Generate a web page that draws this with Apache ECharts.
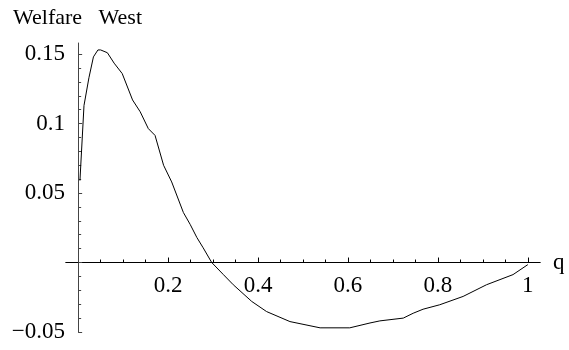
<!DOCTYPE html>
<html>
<head>
<meta charset="utf-8">
<script src="https://cdn.jsdelivr.net/npm/echarts@6/dist/echarts.min.js"></script>
<style>
  html, body { margin: 0; padding: 0; background: #fff; }
  #main { width: 569px; height: 350px; }
</style>
</head>
<body>
<div id="main"></div>
<script>
var qValues = [0.004, 0.013, 0.024, 0.034, 0.044, 0.05, 0.065, 0.08, 0.098, 0.121,
  0.138, 0.156, 0.171, 0.19, 0.208, 0.234, 0.249, 0.264, 0.278, 0.297,
  0.323, 0.345, 0.386, 0.419, 0.471, 0.538, 0.604, 0.649, 0.671, 0.723,
  0.745, 0.767, 0.804, 0.856, 0.908, 0.967, 1.0];
var welfareValues = [0.059, 0.113, 0.133, 0.148, 0.153, 0.153, 0.151, 0.1435, 0.136, 0.117,
  0.1085, 0.0964, 0.0915, 0.07, 0.058, 0.036, 0.0275, 0.018, 0.0106, 0.0,
  -0.0087, -0.016, -0.028, -0.0353, -0.0425, -0.047, -0.047, -0.0435, -0.042, -0.040,
  -0.0365, -0.0336, -0.0304, -0.0244, -0.016, -0.0087, -0.0015];

var xMajorTicks = [0.2, 0.4, 0.6, 0.8, 1];
var xMinorTicks = [0.05, 0.1, 0.15, 0.25, 0.3, 0.35, 0.45, 0.5, 0.55, 0.65, 0.7, 0.75, 0.85, 0.9, 0.95];
var yMajorTicks = [-0.05, 0, 0.05, 0.1, 0.15];
var yLabels = [-0.05, 0.05, 0.1, 0.15];

var serif = 'Liberation Serif, DejaVu Serif, serif';

var points = qValues.map(function (q, i) { return [q, welfareValues[i]]; });

var myChart = echarts.init(document.getElementById('main'));
var option = {
  animation: false,
  title: {
    text: 'Welfare   West',
    left: 8,
    top: 2,
    textStyle: { fontFamily: serif, fontSize: 22, fontWeight: 'normal', color: '#000' }
  },
  grid: { left: 66, right: 29, top: 43, bottom: 18, outerBoundsMode: 'none' },
  xAxis: [
    {
      type: 'value',
      min: -0.027,
      max: 1.027,
      splitLine: { show: false },
      axisLine: { onZero: true, onZeroAxisIndex: 0, lineStyle: { color: '#000', width: 1 } },
      axisTick: { customValues: xMajorTicks, inside: true, length: 5, lineStyle: { color: '#000' } },
      // labels sit at the grid edge, pull them back up under the zero line
      axisLabel: {
        customValues: xMajorTicks,
        margin: -58,
        fontFamily: serif,
        fontSize: 23,
        color: '#000',
        formatter: function (v) { return String(v); }
      },
      name: 'q',
      nameLocation: 'end',
      nameGap: 13,
      nameTextStyle: { fontFamily: serif, fontSize: 23, color: '#000' }
    },
    {
      type: 'value',
      position: 'top',
      min: -0.027,
      max: 1.027,
      splitLine: { show: false },
      axisLine: { onZero: true, onZeroAxisIndex: 0, lineStyle: { color: '#000', width: 1 } },
      axisTick: { customValues: xMinorTicks, inside: false, length: 3, lineStyle: { color: '#000' } },
      axisLabel: { show: false }
    }
  ],
  yAxis: {
    type: 'value',
    min: -0.05,
    max: 0.158,
    interval: 0.05,
    splitLine: { show: false },
    axisLine: { onZero: true, lineStyle: { color: '#444', width: 1 } },
    axisTick: { customValues: yMajorTicks, inside: true, length: 4, lineStyle: { color: '#444' } },
    minorTick: { show: true, splitNumber: 5, length: 3, lineStyle: { color: '#444' } },
    axisLabel: {
      customValues: yLabels,
      margin: 1,
      fontFamily: serif,
      fontSize: 23,
      color: '#000',
      formatter: function (v) { return v < 0 ? '\u2212' + String(-v) : String(v); }
    }
  },
  series: [
    {
      type: 'line',
      xAxisIndex: 0,
      yAxisIndex: 0,
      data: points,
      showSymbol: false,
      smooth: false,
      lineStyle: { color: '#000', width: 1 }
    }
  ]
};
myChart.setOption(option);
</script>
</body>
</html>
